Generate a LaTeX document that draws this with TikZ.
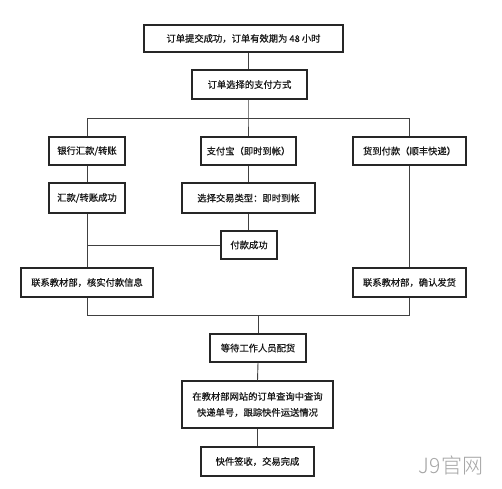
\documentclass[tikz,border=0pt]{standalone}
\usepackage{fontspec}
\newfontfamily\cjk[FakeBold=0.6]{Noto Sans CJK SC}
\begin{document}
\begin{tikzpicture}[x=1pt,y=-1pt,
  flowbox/.style={draw=black!85,line width=1.2pt,inner sep=0pt,font=\cjk\fontsize{9.3}{12}\selectfont,text=black!90,align=center},
  conn/.style={draw=black!75,line width=0.9pt}]
\useasboundingbox (0,0) rectangle (502,488);
\fill[white] (0,0) rectangle (502,488);
\node[flowbox,minimum width=199pt,minimum height=27pt] (top) at (243.5,38.5) {订单提交成功，订单有效期为 48 小时};
\node[flowbox,minimum width=115pt,minimum height=29pt] (choose) at (249.5,84.5) {订单选择的支付方式};
\node[flowbox,minimum width=76pt,minimum height=28pt] (bank) at (87,151) {银行汇款/转账};
\node[flowbox,minimum width=95pt,minimum height=28pt] (alipay) at (248.5,151) {支付宝（即时到帐）};
\node[flowbox,minimum width=113pt,minimum height=28pt] (cod) at (409.5,151) {货到付款（顺丰快递）};
\node[flowbox,minimum width=76pt,minimum height=30pt] (bankok) at (87,198) {汇款/转账成功};
\node[flowbox,minimum width=133pt,minimum height=30pt] (alitype) at (248.5,198) {选择交易类型：即时到帐};
\node[flowbox,minimum width=56pt,minimum height=28pt] (paid) at (249,245) {付款成功};
\node[flowbox,minimum width=132pt,minimum height=29pt] (lcontact) at (87,282.5) {联系教材部，核实付款信息};
\node[flowbox,minimum width=113pt,minimum height=29pt] (rcontact) at (409.5,282.5) {联系教材部，确认发货};
\node[flowbox,minimum width=96pt,minimum height=28pt] (wait) at (258,348) {等待工作人员配货};
\node[flowbox,minimum width=151pt,minimum height=47pt,font=\cjk\fontsize{9.3}{16}\selectfont] (query) at (257.5,404.5) {在教材部网站的订单查询中查询\\快递单号，跟踪快件运送情况};
\node[flowbox,minimum width=113pt,minimum height=29pt] (done) at (257.5,461.5) {快件签收，交易完成};
\node[font=\fontspec{Noto Sans CJK SC Light}\fontsize{21}{24}\selectfont,text=black!35,inner sep=0pt] (mark) at (451,465) {J9官网};
\coordinate (busC) at (248,118);
\coordinate (merge) at (258,315);
\draw[conn] (top.south -| busC) -- (choose.north -| busC);
\draw[conn] (choose.south -| busC) -- (busC) -- (alipay.north -| busC);
\draw[conn] (bank.north) -- (bank.north |- busC) -- (cod.north |- busC) -- (cod.north);
\draw[conn] (bank.south) -- (bankok.north);
\draw[conn] (bankok.south) -- (lcontact.north);
\draw[conn] (alipay.south -| busC) -- (alitype.north -| busC);
\draw[conn] (alitype.south -| busC) -- (paid.north -| busC);
\draw[conn] (paid.west) -- (paid.west -| bankok.south);
\draw[conn] (cod.south) -- (rcontact.north);
\draw[conn] (lcontact.south) -- (lcontact.south |- merge) -- (rcontact.south |- merge) -- (rcontact.south);
\draw[conn] (merge) -- (wait.north);
\draw[conn] (wait.south) -- (query.north);
\draw[conn] (query.south) -- (done.north);
\end{tikzpicture}
\end{document}
